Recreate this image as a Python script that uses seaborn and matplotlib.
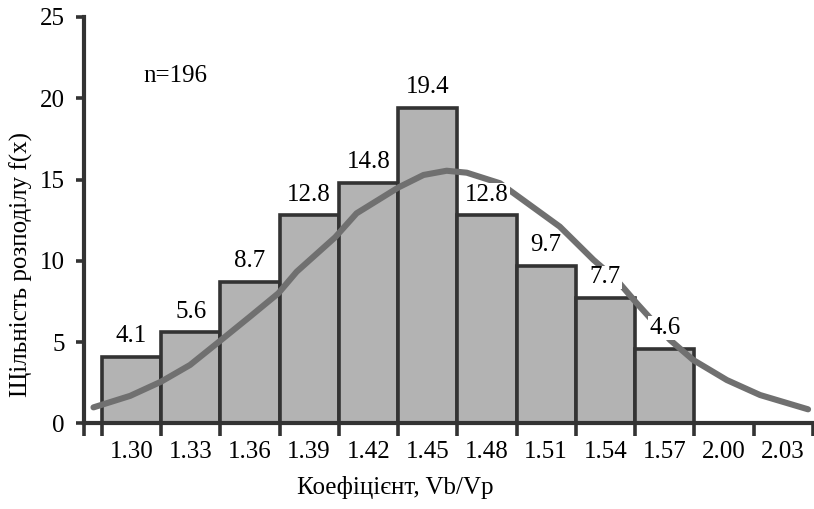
import matplotlib
matplotlib.use("Agg")
import matplotlib.pyplot as plt
import pandas as pd
import seaborn as sns
from matplotlib.ticker import FixedLocator

# Class intervals of the coefficient Vb/Vp (two last classes are empty)
categories = ["1.30", "1.33", "1.36", "1.39", "1.42", "1.45",
              "1.48", "1.51", "1.54", "1.57", "2.00", "2.03"]
bar_categories = categories[:10]
density = [4.1, 5.6, 8.7, 12.8, 14.8, 19.4, 12.8, 9.7, 7.7, 4.6]

# Fitted density curve, sampled in class-position units
curve_x = [-0.64, -0.02, 0.50, 0.99, 1.55, 2.00, 2.48, 2.79, 3.44, 3.80,
           4.51, 4.93, 5.32, 5.66, 6.22, 6.61, 7.23, 7.80, 8.19, 8.53,
           9.09, 9.48, 10.05, 10.61, 11.42]
curve_y = [0.98, 1.69, 2.56, 3.59, 5.23, 6.56, 8.00, 9.33, 11.45, 12.92,
           14.52, 15.28, 15.54, 15.42, 14.77, 13.74, 12.10, 10.05, 8.82, 7.38,
           5.13, 3.90, 2.66, 1.74, 0.86]

sample_note = "n=196"
x_title = "Коефіцієнт, Vb/Vp"
y_title = "Щільність розподілу f(x)"

sns.set_theme(style="white")
plt.rcParams["font.family"] = ["Liberation Serif", "DejaVu Serif"]

dark = "#333333"
fs = 18

fig = plt.figure(figsize=(8.14, 5.09), dpi=100)
ax = fig.add_axes([84 / 814, 1 - 423.3 / 509, 730 / 814, 406.3 / 509])

df = pd.DataFrame({"bin": bar_categories, "density": density})
sns.barplot(data=df, x="bin", y="density", order=categories,
            color="#b3b3b3", saturation=1, width=1.0,
            edgecolor=dark, linewidth=2.6, ax=ax, zorder=2)

sns.lineplot(x=curve_x, y=curve_y, sort=False, color="#707070",
             linewidth=4.4, ax=ax, zorder=3, solid_capstyle="round",
             solid_joinstyle="round")

for i, v in enumerate(density):
    ax.annotate(f"{v}", (i, v), xytext=(0, 7), textcoords="offset points",
                ha="center", va="bottom", fontsize=fs, color="black",
                bbox=dict(fc="white", ec="none", pad=0.5), zorder=4)

ax.text(0.2, 21.4, sample_note, fontsize=fs, ha="left", va="center",
        color="black")

ax.set_xlim(-0.8, 11.52)
ax.set_ylim(0, 25)
ax.set_yticks([0, 5, 10, 15, 20, 25])
ax.set_xticks(range(len(categories)))
ax.set_xticklabels(categories)
ax.xaxis.set_minor_locator(
    FixedLocator([-0.8] + [i - 0.5 for i in range(len(categories) + 1)]))

ax.tick_params(axis="x", which="major", bottom=True, length=0, pad=13,
               labelsize=fs, labelcolor="black")
ax.tick_params(axis="x", which="minor", bottom=True, length=9, width=2.6,
               color=dark, direction="out")
ax.tick_params(axis="y", which="major", left=True, length=6, width=2.6,
               color=dark, direction="out", pad=8, labelsize=fs,
               labelcolor="black")

for side in ("top", "right"):
    ax.spines[side].set_visible(False)
for side in ("left", "bottom"):
    ax.spines[side].set_color(dark)
    ax.spines[side].set_linewidth(3.0)

ax.set_xlabel(x_title, fontsize=fs, color="black")
ax.set_ylabel(y_title, fontsize=fs, color="black")
ax.xaxis.set_label_coords(0.426, -0.13)
ax.yaxis.set_label_coords(-0.07, 0.392)
ax.grid(False)

fig.savefig("out.png", dpi=100)
